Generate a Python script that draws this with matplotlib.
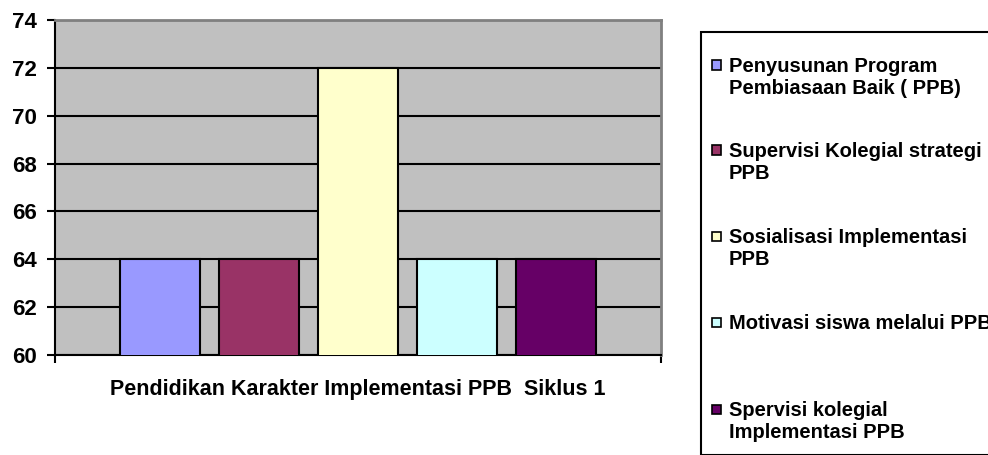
import matplotlib
matplotlib.use("Agg")
import matplotlib.pyplot as plt
from matplotlib.patches import Rectangle
import numpy as np

plt.rcParams['font.family'] = ['Liberation Sans', 'DejaVu Sans']

category = "Pendidikan Karakter Implementasi PPB  Siklus 1"
series_labels = [
    "Penyusunan Program\nPembiasaan Baik ( PPB)",
    "Supervisi Kolegial strategi\nPPB",
    "Sosialisasi Implementasi\nPPB",
    "Motivasi siswa melalui PPB",
    "Spervisi kolegial\nImplementasi PPB",
]
values = [64, 64, 72, 64, 64]
colors = ["#9999FF", "#993366", "#FFFFCC", "#CCFFFF", "#660066"]
yticks = [60, 62, 64, 66, 68, 70, 72, 74]

W, H = 988, 455
fig = plt.figure(figsize=(W / 100, H / 100), dpi=100)
ax = fig.add_axes([55 / W, 1 - 355 / H, (661 - 55) / W, (355 - 20) / H])
ax.set_facecolor("#C0C0C0")

n = len(values)
step = 0.1634
width = 0.132
offsets = (np.arange(n) - (n - 1) / 2) * step
for off, v, c in zip(offsets, values, colors):
    ax.bar(off, v, width=width, color=c, edgecolor="black", linewidth=1.5, zorder=3)

ax.set_xlim(-0.5, 0.5)
ax.set_ylim(60, 74)
ax.set_yticks(yticks)
ax.set_yticklabels([str(t) for t in yticks], fontsize=16, fontweight="bold")
ax.yaxis.grid(True, color="black", linewidth=1.5, zorder=1)
ax.set_axisbelow(True)

ax.set_xticks([0])
ax.set_xticklabels([category], fontsize=15.5, fontweight="bold")
ax.tick_params(axis="x", which="major", length=0, pad=17)
ax.set_xticks([-0.5, 0.5], minor=True)
ax.tick_params(axis="x", which="minor", length=6, width=1.5, direction="out")
ax.tick_params(axis="y", length=6, width=1.5, direction="out", pad=7)

for side in ["left", "bottom"]:
    ax.spines[side].set_color("black")
    ax.spines[side].set_linewidth(1.5)
for side in ["top", "right"]:
    ax.spines[side].set_color("#808080")
    ax.spines[side].set_linewidth(2)

# Legend (drawn manually to match Excel-style layout; it runs off the right edge as in the original)
fig.patches.append(Rectangle((701 / W, 0), 400 / W, 1 - 32 / H, transform=fig.transFigure,
                             facecolor="white", edgecolor="black", linewidth=1.5))
entry_y = [65, 150, 236, 322, 409]
for y, lab, c in zip(entry_y, series_labels, colors):
    fig.patches.append(Rectangle((712 / W, 1 - (y + 4.5) / H), 9 / W, 9 / H,
                                 transform=fig.transFigure, facecolor=c,
                                 edgecolor="black", linewidth=1.2))
    fig.text(729 / W, 1 - (y - 8) / H, lab, fontsize=14.5, fontweight="bold",
             va="top", ha="left", linespacing=1.2)

fig.savefig("out.png", dpi=100)
